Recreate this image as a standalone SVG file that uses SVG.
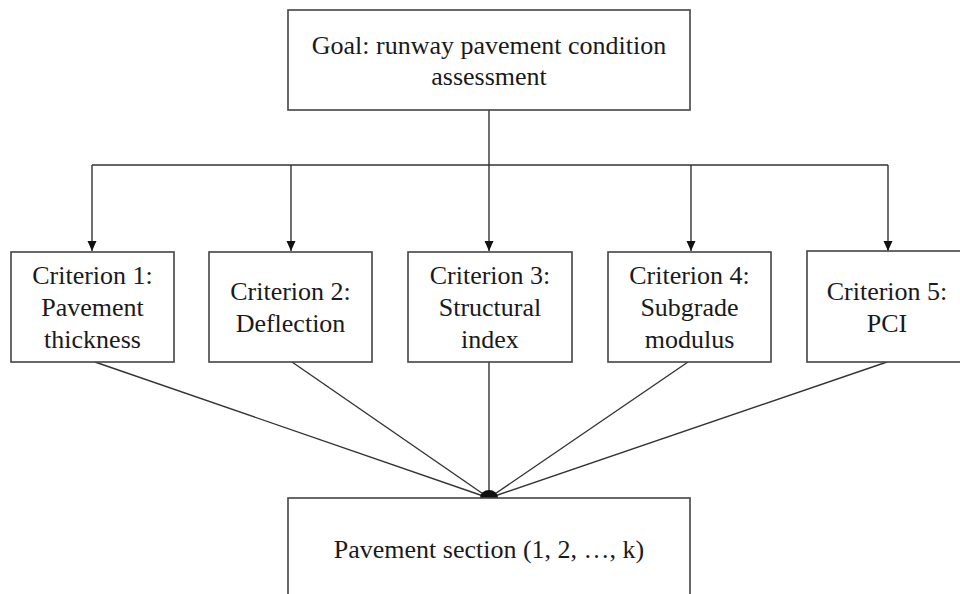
<svg xmlns="http://www.w3.org/2000/svg" width="960" height="594" viewBox="0 0 960 594">
<style>
.box{fill:#fff;stroke:#444;stroke-width:1.6}
.t{font-family:"Liberation Serif","Times New Roman",serif;font-size:26px;fill:#1a1a1a;text-anchor:middle}
.c{fill:none;stroke:#333;stroke-width:1.4}
</style>
<defs>
<marker id="ah" viewBox="0 0 10 10" refX="10" refY="5" markerWidth="10" markerHeight="10" markerUnits="userSpaceOnUse" orient="auto">
<path d="M0,0.5 L10,5 L0,9.5 Z" fill="#111"/>
</marker>
</defs>
<rect width="960" height="594" fill="#fff"/>
<g id="connectors">
<line class="c" x1="489" y1="110" x2="489" y2="165"/>
<line class="c" x1="92" y1="165" x2="888" y2="165"/>
<line class="c" x1="92" y1="165" x2="92" y2="251" marker-end="url(#ah)"/>
<line class="c" x1="291" y1="165" x2="291" y2="251" marker-end="url(#ah)"/>
<line class="c" x1="489" y1="165" x2="489" y2="251" marker-end="url(#ah)"/>
<line class="c" x1="691" y1="165" x2="691" y2="251" marker-end="url(#ah)"/>
<line class="c" x1="888" y1="165" x2="888" y2="251" marker-end="url(#ah)"/>
<line class="c" x1="95" y1="362" x2="489" y2="498"/>
<line class="c" x1="292" y1="362" x2="489" y2="498"/>
<line class="c" x1="489" y1="362" x2="489" y2="498"/>
<line class="c" x1="688" y1="362" x2="489" y2="498"/>
<line class="c" x1="887" y1="362" x2="489" y2="498"/>
<path d="M480,498 A9,8 0 0 1 498,498 Z" fill="#111"/>
</g>
<g id="goal">
<rect class="box" x="288" y="10" width="402" height="100"/>
<text class="t" x="489" y="54">Goal: runway pavement condition</text>
<text class="t" x="489" y="85">assessment</text>
</g>
<g id="c1">
<rect class="box" x="11" y="252" width="163" height="110"/>
<text class="t" x="92.5" y="284">Criterion 1:</text>
<text class="t" x="92.5" y="316">Pavement</text>
<text class="t" x="92.5" y="348">thickness</text>
</g>
<g id="c2">
<rect class="box" x="209" y="252" width="163" height="110"/>
<text class="t" x="290.5" y="300">Criterion 2:</text>
<text class="t" x="290.5" y="332">Deflection</text>
</g>
<g id="c3">
<rect class="box" x="408" y="252" width="164" height="110"/>
<text class="t" x="490" y="284">Criterion 3:</text>
<text class="t" x="490" y="316">Structural</text>
<text class="t" x="490" y="348">index</text>
</g>
<g id="c4">
<rect class="box" x="608" y="252" width="163" height="110"/>
<text class="t" x="689.5" y="284">Criterion 4:</text>
<text class="t" x="689.5" y="316">Subgrade</text>
<text class="t" x="689.5" y="348">modulus</text>
</g>
<g id="c5">
<rect class="box" x="807" y="251" width="163" height="111"/>
<text class="t" x="887" y="300">Criterion 5:</text>
<text class="t" x="887" y="332">PCI</text>
</g>
<g id="section">
<rect class="box" x="288" y="498" width="402" height="110"/>
<text class="t" x="489" y="558">Pavement section (1, 2, …, k)</text>
</g>
</svg>
